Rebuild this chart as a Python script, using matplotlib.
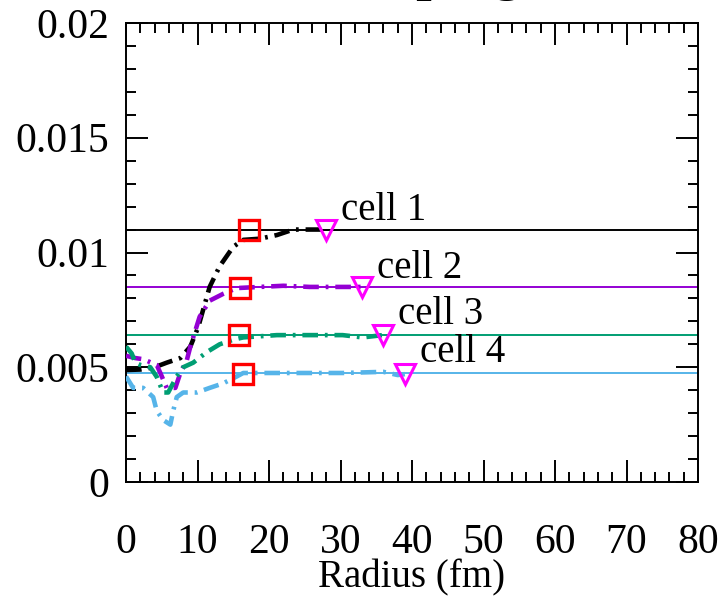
import matplotlib
matplotlib.use("Agg")
import matplotlib.pyplot as plt
from matplotlib.ticker import MultipleLocator

# ---- data ----
cell_names = ["cell 1", "cell 2", "cell 3", "cell 4"]
ref_levels = [0.0110, 0.0085, 0.0064, 0.00475]
colors = ["#000000", "#9400d3", "#009e73", "#56b4e9"]

r1 = [0.0, 2.0, 4.0, 5.7, 7.6, 9.0, 10.1, 11.7, 13.1, 15.0, 16.4, 18.7, 21.1, 23.4, 25.7, 28.0]
v1 = [0.00488, 0.0049, 0.0050, 0.0052, 0.0054, 0.0059, 0.00675, 0.0085, 0.0094, 0.01025, 0.01055, 0.0106, 0.01076, 0.0110, 0.0110, 0.0110]

r2 = [0.0, 1.3, 2.4, 4.3, 4.8, 5.7, 6.9, 7.6, 8.5, 9.0, 10.3, 11.7, 13.6, 15.5, 18.7, 22.0, 25.7, 30.3, 33.0]
v2 = [0.0055, 0.0054, 0.00535, 0.0051, 0.00475, 0.0041, 0.0041, 0.00475, 0.0053, 0.0059, 0.0072, 0.0079, 0.0082, 0.00845, 0.0085, 0.00855, 0.0085, 0.0085, 0.0085]

r3 = [0.0, 0.8, 1.3, 2.0, 3.4, 4.3, 5.2, 5.9, 7.1, 8.0, 9.4, 11.3, 13.1, 15.0, 16.4, 21.1, 25.7, 30.3, 33.1, 35.9]
v3 = [0.0059, 0.0056, 0.0052, 0.0051, 0.0050, 0.00458, 0.0039, 0.0039, 0.0046, 0.0050, 0.0052, 0.00566, 0.0060, 0.0062, 0.0063, 0.0064, 0.0064, 0.0064, 0.0063, 0.0064]

r4 = [0.0, 1.0, 2.4, 3.8, 4.3, 5.2, 6.2, 6.6, 7.1, 8.0, 9.9, 11.7, 13.6, 15.5, 16.4, 21.0, 25.7, 30.3, 36.0, 38.0, 39.0]
v4 = [0.0046, 0.0041, 0.0041, 0.0037, 0.0031, 0.0027, 0.0025, 0.0031, 0.0037, 0.0039, 0.0039, 0.0041, 0.0043, 0.0046, 0.00475, 0.00475, 0.00475, 0.00475, 0.0048, 0.00466, 0.0047]

curves_r = [r1, r2, r3, r4]
curves_v = [v1, v2, v3, v4]

square_r = [17.2, 15.9, 15.8, 16.4]
square_v = [0.0110, 0.00845, 0.0064, 0.0047]
tri_r = [28.0, 33.0, 35.9, 39.0]
tri_v = [0.0110, 0.0085, 0.0064, 0.0047]
label_r = [30.1, 35.1, 38.0, 41.1]
label_v = [0.01185, 0.00932, 0.00728, 0.00566]

x_ticks = [0, 10, 20, 30, 40, 50, 60, 70, 80]
y_ticks = [0, 0.005, 0.01, 0.015, 0.02]
y_tick_labels = ["0", "0.005", "0.01", "0.015", "0.02"]

# ---- figure ----
plt.rcParams['font.family'] = ['Liberation Serif', 'DejaVu Serif']
fig = plt.figure(figsize=(7.24, 5.97), dpi=100)
ax = fig.add_axes([126/724, 1-482/597, (698-126)/724, (482-23)/597])

for lvl, c in zip(ref_levels, colors):
    ax.axhline(lvl, color=c, lw=1.4, zorder=2)

dash = (0, (3.4, 1.5, 0.6, 1.5))
for rr, vv, c in zip(curves_r, curves_v, colors):
    ax.plot(rr, vv, color=c, lw=3.3, linestyle=dash, zorder=3)

ax.plot(square_r, square_v, linestyle='none', marker='s', markersize=14,
        markerfacecolor='none', markeredgecolor='#ff0000', markeredgewidth=2.4, zorder=5)
ax.plot(tri_r, tri_v, linestyle='none', marker='v', markersize=15,
        markerfacecolor='none', markeredgecolor='#ff00ff', markeredgewidth=2.2, zorder=5)

for name, lx, ly in zip(cell_names, label_r, label_v):
    ax.text(lx, ly, name, fontsize=28, ha='left', va='center', color='black')

ax.set_xlim(0, 80)
ax.set_ylim(0, 0.02)
ax.set_xticks(x_ticks)
ax.set_yticks(y_ticks)
ax.set_yticklabels(y_tick_labels)
ax.xaxis.set_minor_locator(MultipleLocator(2))
ax.yaxis.set_minor_locator(MultipleLocator(0.001))
ax.tick_params(which='both', direction='in', top=True, right=True, width=1.4, labelsize=30)
ax.tick_params(which='major', length=15.5)
ax.tick_params(which='minor', length=7.5)
ax.tick_params(axis='x', pad=30)
ax.tick_params(axis='y', pad=12)
for s in ax.spines.values():
    s.set_linewidth(1.4)

ax.set_xlabel("Radius (fm)", fontsize=28, labelpad=-2)

# title of the original figure, cut off by the top edge (only descenders visible)
fig.text(302/724, 1 + 11/597, "Damping", fontsize=40, fontweight='bold',
         ha='left', va='baseline')

fig.savefig("out.png", dpi=100)
